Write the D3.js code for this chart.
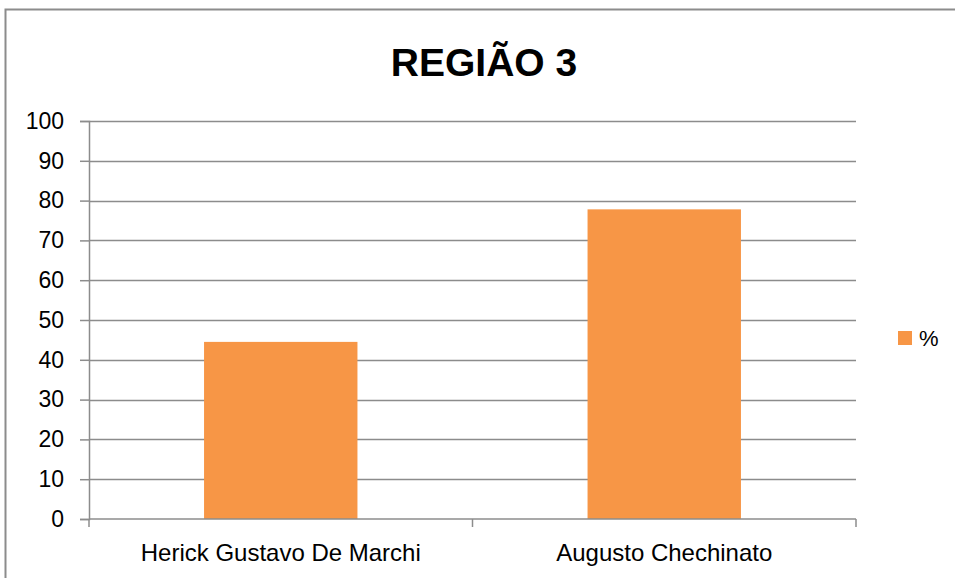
<!DOCTYPE html>
<html>
<head>
<meta charset="utf-8">
<script src="https://cdn.jsdelivr.net/npm/d3@7"></script>
<style>
  body { margin: 0; background: #fff; }
  text { font-family: "Liberation Sans", Arial, sans-serif; fill: #000; }
</style>
</head>
<body>
<svg id="chart"></svg>
<script>
// data
const categories = ['Herick Gustavo De Marchi', 'Augusto Chechinato'];
const values = [44.5, 77.8];
const seriesName = '%';
const yTicks = [0, 10, 20, 30, 40, 50, 60, 70, 80, 90, 100];
const title = 'REGIÃO 3';

const W = 955, H = 578;
const margin = { left: 89, right: 99, top: 121, bottom: 59 };
const width = W - margin.left - margin.right;
const height = H - margin.top - margin.bottom;

const svg = d3.select('#chart').attr('width', W).attr('height', H);

// outer chart border (cropped on right / bottom)
svg.append('rect')
    .attr('x', 5.5).attr('y', 9.5)
    .attr('width', W + 10).attr('height', H + 10)
    .attr('fill', 'none').attr('stroke', '#8c8c8c').attr('stroke-width', 2);

svg.append('text')
    .attr('x', 484).attr('y', 76)
    .attr('text-anchor', 'middle')
    .attr('font-weight', 'bold')
    .attr('font-size', 39)
    .text(title);

const chart = svg.append('g')
    .attr('transform', `translate(${margin.left},${margin.top})`);

const x = d3.scaleBand()
    .domain(categories)
    .range([0, width])
    .paddingInner(0.6)
    .paddingOuter(0.3);

const y = d3.scaleLinear().domain([0, 100]).range([height, 0]);

// gridlines
chart.selectAll('.grid')
    .data(yTicks.filter(d => d > 0))
    .enter().append('line')
    .attr('x1', 0).attr('x2', width)
    .attr('y1', d => Math.round(y(d)) + 0.5).attr('y2', d => Math.round(y(d)) + 0.5)
    .attr('stroke', '#8c8c8c').attr('stroke-width', 1.5);

// y axis
const yAxis = d3.axisLeft(y).tickValues(yTicks).tickSize(9).tickPadding(16);
const yAxisG = chart.append('g').call(yAxis);
yAxisG.select('.domain').attr('stroke', '#8c8c8c').attr('stroke-width', 1.5);
yAxisG.selectAll('.tick line').attr('stroke', '#8c8c8c').attr('stroke-width', 1.5);
yAxisG.selectAll('.tick text').attr('font-size', 23).attr('font-family', 'Liberation Sans').attr('fill', '#000');

// bars
chart.selectAll('.bar')
    .data(values)
    .enter().append('rect')
    .attr('class', 'bar')
    .attr('x', (d, i) => x(categories[i]))
    .attr('y', d => y(d))
    .attr('width', x.bandwidth())
    .attr('height', d => height - y(d))
    .attr('fill', '#f79646');

// x axis with ticks on band boundaries
const xAxisG = chart.append('g').attr('transform', `translate(0,${height})`);
xAxisG.append('line')
    .attr('x1', 0).attr('x2', width).attr('y1', 0).attr('y2', 0)
    .attr('stroke', '#8c8c8c').attr('stroke-width', 1.5);
const bounds = [0, width / 2, width];
xAxisG.selectAll('.xtick')
    .data(bounds)
    .enter().append('line')
    .attr('x1', d => d).attr('x2', d => d)
    .attr('y1', 0).attr('y2', 8)
    .attr('stroke', '#8c8c8c').attr('stroke-width', 1.5);
xAxisG.selectAll('.xlabel')
    .data(categories)
    .enter().append('text')
    .attr('x', d => x(d) + x.bandwidth() / 2)
    .attr('y', 42)
    .attr('text-anchor', 'middle')
    .attr('font-size', 24)
    .text(d => d);

// legend
const legend = svg.append('g').attr('transform', 'translate(898,331)');
legend.append('rect').attr('width', 14).attr('height', 14).attr('fill', '#f79646');
legend.append('text').attr('x', 21).attr('y', 15).attr('font-size', 22).text(seriesName);
</script>
</body>
</html>
